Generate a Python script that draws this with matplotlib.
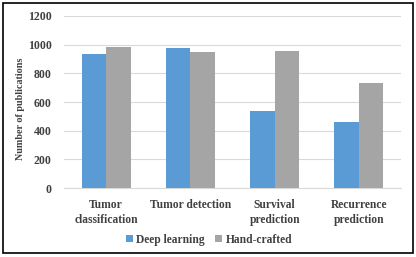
import numpy as np
import matplotlib.pyplot as plt
from matplotlib.patches import Rectangle

# datos
categories = ['Tumor\nclassification', 'Tumor detection', 'Survival\nprediction', 'Recurrence\nprediction']
deep_learning = [935, 977, 537, 462]
hand_crafted = [984, 950, 956, 733]

plt.rcParams['font.family'] = 'Liberation Serif'
plt.rcParams['font.weight'] = 'bold'

fig = plt.figure(figsize=(4.16, 2.57), dpi=100)
ax = fig.add_axes([0.154, 0.268, 0.81, 0.670])

x = np.arange(len(categories))
w = 0.29
ax.bar(x - w / 2, deep_learning, w, color='#5B9BD5', label='Deep learning', zorder=3)
ax.bar(x + w / 2, hand_crafted, w, color='#A5A5A5', label='Hand-crafted', zorder=3)

ax.set_xlim(-0.5, 3.5)
ax.set_ylim(0, 1200)
ax.set_yticks(range(0, 1201, 200))
ax.set_xticks(x)
ax.set_xticklabels(categories, fontsize=8.3, color='#404040', fontweight='bold', linespacing=1.35)
ax.tick_params(axis='y', labelsize=8.5, labelcolor='#404040', length=0, pad=9)
ax.tick_params(axis='x', length=0, pad=8)
ax.grid(axis='y', color='#D9D9D9', linewidth=0.8, zorder=0)
for s in ['top', 'right', 'left']:
    ax.spines[s].set_visible(False)
ax.spines['bottom'].set_color('#D9D9D9')

ax.set_ylabel('Number of publications', fontsize=7.3, fontweight='bold', color='#404040')
ax.yaxis.set_label_coords(-0.115, 0.46)

ax.legend(loc='upper center', bbox_to_anchor=(0.43, -0.205), ncol=2, frameon=False,
          prop={'family': 'Liberation Serif', 'weight': 'bold', 'size': 8.3},
          handlelength=0.6, handleheight=0.6, handletextpad=0.3,
          columnspacing=0.9, labelcolor='#404040')

fig.patches.append(Rectangle((3 / 416, 4 / 257), 410 / 416, 250 / 257, transform=fig.transFigure,
                             fill=False, edgecolor='black', linewidth=1.2))

plt.savefig('out.png', dpi=100)
